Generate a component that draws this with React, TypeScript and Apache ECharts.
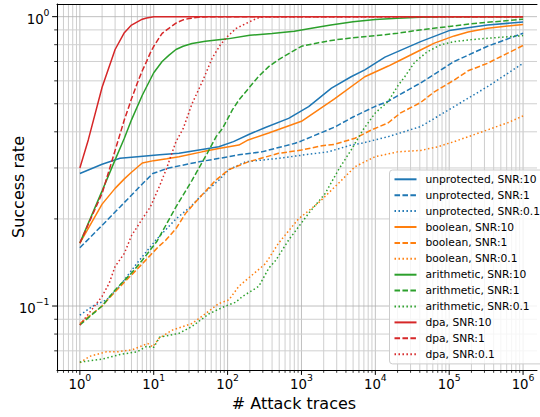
import React, { useEffect, useRef } from "react";
import * as echarts from "echarts";

// ---- data: [number of attack traces, success rate] ----
const unprotected10 = [[1,0.287],[2,0.309],[3.5,0.324],[6,0.328],[12,0.333],[22,0.337],[41,0.346],[76,0.355],[120,0.37],[200,0.393],[325,0.414],[670,0.445],[1250,0.489],[2550,0.566],[4700,0.62],[7200,0.655],[13500,0.725],[20000,0.757],[41000,0.82],[100000,0.895],[200000,0.92],[330000,0.936],[1000000,0.958]];
const unprotected1 = [[1,0.159],[2,0.19],[3.5,0.22],[6.4,0.258],[9.7,0.287],[16,0.3],[41,0.315],[104,0.328],[142,0.333],[290,0.341],[820,0.365],[1000,0.372],[2800,0.415],[5000,0.45],[10000,0.49],[15000,0.51],[22000,0.54],[41000,0.59],[117000,0.7],[330000,0.79],[1000000,0.876]];
const unprotected01 = [[1,0.093],[1.5,0.1],[2.3,0.105],[3.45,0.117],[4.7,0.13],[6.4,0.144],[10.7,0.169],[20,0.2],[30,0.218],[41,0.236],[50,0.248],[76,0.272],[104,0.296],[175,0.315],[490,0.324],[1100,0.333],[2300,0.341],[4700,0.36],[6500,0.365],[15000,0.385],[41000,0.417],[117000,0.489],[330000,0.573],[1000000,0.69]];
const boolean10 = [[1,0.165],[2,0.225],[3,0.255],[4,0.275],[5,0.29],[7,0.312],[10,0.318],[15,0.323],[22,0.328],[45,0.341],[76,0.35],[142,0.36],[190,0.375],[360,0.396],[1000,0.435],[2800,0.52],[7200,0.62],[15000,0.675],[20000,0.7],[41000,0.767],[63000,0.81],[117000,0.858],[180000,0.885],[330000,0.912],[1000000,0.94]];
const boolean1 = [[1,0.087],[2,0.1],[3,0.112],[5,0.128],[7,0.14],[11.5,0.16],[14.6,0.169],[20,0.185],[27,0.209],[41,0.236],[69,0.272],[104,0.296],[190,0.315],[490,0.337],[1000,0.346],[1900,0.358],[2800,0.362],[5300,0.38],[8900,0.406],[15000,0.43],[22000,0.465],[41000,0.505],[63000,0.55],[117000,0.604],[180000,0.65],[330000,0.69],[1000000,0.795]];
const boolean01 = [[1,0.0637],[1.36,0.067],[2.3,0.0695],[3.3,0.0695],[5.2,0.0707],[8.3,0.0742],[9.7,0.0723],[11.9,0.0775],[18,0.0826],[33,0.087],[50,0.094],[76,0.102],[104,0.105],[142,0.117],[215,0.128],[325,0.14],[490,0.165],[910,0.2],[1690,0.227],[3150,0.265],[5300,0.303],[9900,0.328],[20000,0.341],[41000,0.345],[70000,0.355],[117000,0.37],[330000,0.406],[620000,0.43],[1000000,0.454]];
const arithmetic10 = [[1,0.165],[2,0.25],[3,0.32],[4,0.38],[5,0.44],[7,0.535],[10,0.64],[13,0.7],[16,0.735],[20,0.77],[25,0.79],[33,0.808],[50,0.822],[100,0.838],[200,0.862],[400,0.875],[800,0.89],[1500,0.915],[2500,0.935],[5000,0.96],[10000,0.978],[20000,0.988],[40000,0.996],[100000,1.0],[1000000,1.0]];
const arithmetic1 = [[1,0.086],[2,0.1],[3,0.1136],[5,0.13],[7,0.144],[11,0.167],[20,0.22],[33,0.272],[53,0.337],[70,0.385],[85,0.41],[116,0.476],[142,0.515],[260,0.62],[360,0.672],[490,0.71],[700,0.75],[1000,0.79],[1700,0.813],[3000,0.833],[5000,0.845],[10000,0.86],[20000,0.876],[40000,0.9],[100000,0.925],[200000,0.945],[500000,0.965],[1000000,0.98]];
const arithmetic01 = [[1,0.064],[2,0.0655],[3.5,0.068],[6,0.0695],[8,0.0725],[10,0.072],[12,0.078],[22,0.0805],[33,0.085],[56,0.094],[94,0.1],[128,0.103],[160,0.108],[265,0.117],[360,0.135],[450,0.144],[670,0.169],[1250,0.209],[2100,0.245],[3150,0.295],[4700,0.346],[6800,0.406],[10000,0.465],[15000,0.51],[20000,0.575],[25000,0.62],[34000,0.695],[50000,0.755],[77000,0.8],[117000,0.82],[200000,0.833],[330000,0.842],[1000000,0.86]];
const dpa10 = [[1,0.3],[1.3,0.375],[2,0.57],[3,0.77],[4,0.88],[5,0.935],[6,0.96],[7,0.98],[8,0.99],[10,1.0],[1000000,1.0]];
const dpa1 = [[1,0.165],[2,0.245],[3,0.345],[4,0.44],[5,0.52],[6,0.59],[7,0.65],[8,0.7],[9,0.75],[10,0.79],[13,0.876],[15,0.9],[20,0.95],[25,0.975],[30,0.985],[40,0.995],[60,1.0],[1000000,1.0]];
const dpa01 = [[1,0.086],[2,0.108],[2.5,0.12],[3,0.137],[4,0.152],[5,0.175],[7,0.2],[9,0.22],[12,0.26],[15,0.3],[20,0.37],[25,0.41],[33,0.5],[46,0.6],[62,0.72],[80,0.8],[100,0.855],[130,0.91],[160,0.935],[215,0.97],[260,0.99],[320,1.0],[1000000,1.0]];

const seriesNames = [
  "unprotected, SNR:10", "unprotected, SNR:1", "unprotected, SNR:0.1",
  "boolean, SNR:10", "boolean, SNR:1", "boolean, SNR:0.1",
  "arithmetic, SNR:10", "arithmetic, SNR:1", "arithmetic, SNR:0.1",
  "dpa, SNR:10", "dpa, SNR:1", "dpa, SNR:0.1",
];
const seriesData = [
  unprotected10, unprotected1, unprotected01,
  boolean10, boolean1, boolean01,
  arithmetic10, arithmetic1, arithmetic01,
  dpa10, dpa1, dpa01,
];

// ---- axis ticks ----
const xMajorTicks = [1, 10, 100, 1000, 10000, 100000, 1000000];
const xMinorDecades = [0.1, 1, 10, 100, 1000, 10000, 100000, 1000000];
const minorMultipliers = [2, 3, 4, 5, 6, 7, 8, 9];
const yMajorTicks = [0.1, 1];
const yMinorTicks = [0.07, 0.08, 0.09, 0.2, 0.3, 0.4, 0.5, 0.6, 0.7, 0.8, 0.9];

const X_MIN = 0.4903;
const X_MAX = 1.544e6;
const Y_MIN = 0.0601;
const Y_MAX = 1.106;

const xMinorTicks = xMinorDecades
  .flatMap((d) => minorMultipliers.map((m) => +(d * m).toPrecision(6)))
  .filter((v) => v > X_MIN && v < X_MAX);

const COLORS = ["#1f77b4", "#ff7f0e", "#2ca02c", "#d62728"];
const DASHES: any[] = ["solid", [5.55, 2.4], [1.5, 2.475]];
const FONT = "DejaVu Sans";

function powLabel(v: number) {
  const l = Math.log10(v);
  const e = Math.round(l);
  if (Math.abs(l - e) > 1e-6) return "";
  return `{b|10}{s|${e < 0 ? "\u2212" : ""}${Math.abs(e)}}`;
}

const labelRich = {
  b: { fontSize: 13.3, fontFamily: FONT, color: "#000", lineHeight: 18, verticalAlign: "bottom" },
  s: { fontSize: 9.3, fontFamily: FONT, color: "#000", lineHeight: 10, verticalAlign: "top" },
};

function vGrid(major: boolean) {
  return (params: any, api: any) => {
    const cs = params.coordSys;
    const x = api.coord([api.value(0), 1])[0];
    const bottom = cs.y + cs.height;
    return {
      type: "group",
      children: [
        { type: "line", shape: { x1: x, y1: cs.y, x2: x, y2: bottom }, style: { stroke: major ? "#b0b0b0" : "#c2c2c2", lineWidth: 0.8 } },
        { type: "line", shape: { x1: x, y1: bottom, x2: x, y2: bottom + (major ? 4.9 : 2.8) }, style: { stroke: "#000", lineWidth: major ? 1 : 0.8 } },
      ],
    };
  };
}
function hGrid(major: boolean) {
  return (params: any, api: any) => {
    const cs = params.coordSys;
    const y = api.coord([1, api.value(1)])[1];
    return {
      type: "group",
      children: [
        { type: "line", shape: { x1: cs.x, y1: y, x2: cs.x + cs.width, y2: y }, style: { stroke: major ? "#b0b0b0" : "#d0d0d0", lineWidth: major ? 0.8 : 1 } },
        { type: "line", shape: { x1: cs.x, y1: y, x2: cs.x - (major ? 4.9 : 2.8), y2: y }, style: { stroke: "#000", lineWidth: major ? 1 : 0.8 } },
      ],
    };
  };
}

export default function App() {
  const ref = useRef<HTMLDivElement>(null);
  useEffect(() => {
    if (!ref.current) return;
    const chart = echarts.init(ref.current, undefined, { renderer: "svg" });
    const lineSeries = seriesData.map((d, i) => ({
      name: seriesNames[i],
      type: "line",
      data: d,
      showSymbol: false,
      symbol: "none",
      z: 3,
      color: COLORS[Math.floor(i / 3)],
      lineStyle: { color: COLORS[Math.floor(i / 3)], width: 1.5, type: DASHES[i % 3], cap: "butt" },
      emphasis: { disabled: true },
      silent: true,
    }));
    const gridSeries = [
      { type: "custom", renderItem: vGrid(false), data: xMinorTicks.map((v) => [v, 1]), z: 1, silent: true },
      { type: "custom", renderItem: vGrid(true), data: xMajorTicks.map((v) => [v, 1]), z: 1, silent: true },
      { type: "custom", renderItem: hGrid(false), data: yMinorTicks.map((v) => [1, v]), z: 1, silent: true },
      { type: "custom", renderItem: hGrid(true), data: yMajorTicks.map((v) => [1, v]), z: 1, silent: true },
    ];
    const spine = { show: true, lineStyle: { color: "#000", width: 1 } };
    chart.setOption({
      animation: false,
      textStyle: { fontFamily: FONT },
      grid: { left: 57, top: 4, right: 0, bottom: 47 },
      xAxis: [
        {
          type: "log", logBase: 10, min: X_MIN, max: X_MAX, position: "bottom",
          axisLine: spine, axisTick: { show: false }, splitLine: { show: false },
          axisLabel: { margin: 3, formatter: powLabel, rich: labelRich },
          z: 5,
        },
        {
          type: "log", logBase: 10, min: X_MIN, max: X_MAX, position: "top",
          axisLine: spine, axisTick: { show: false }, splitLine: { show: false },
          axisLabel: { show: false },
          z: 5,
        },
      ],
      yAxis: {
        type: "log", logBase: 10, min: Y_MIN, max: Y_MAX,
        axisLine: spine, axisTick: { show: false }, splitLine: { show: false },
        axisLabel: { margin: 7.5, formatter: powLabel, rich: labelRich },
        z: 5,
      },
      legend: {
        data: seriesNames,
        orient: "vertical",
        left: 389.5,
        top: 170,
        itemWidth: 22,
        itemHeight: 12,
        itemGap: 3.9,
        padding: [3.3, 4, 3.7, 4],
        backgroundColor: "rgba(255,255,255,0.8)",
        borderColor: "#cccccc",
        borderWidth: 1,
        borderRadius: 3,
        selectedMode: false,
        itemStyle: { opacity: 0 },
        textStyle: { fontSize: 10.7, fontFamily: FONT, color: "#000", lineHeight: 12, padding: [0, 0, 0, 4] },
        z: 10,
      },
      graphic: [
        { type: "text", x: 294, y: 403, style: { text: "# Attack traces", fontSize: 16, fontFamily: FONT, fill: "#000", align: "center", verticalAlign: "middle" } },
        { type: "text", x: 18.5, y: 187, rotation: Math.PI / 2, style: { text: "Success rate", fontSize: 16, fontFamily: FONT, fill: "#000", align: "center", verticalAlign: "middle" } },
      ],
      series: [...gridSeries, ...lineSeries],
    });
    return () => chart.dispose();
  }, []);
  return <div ref={ref} style={{ position: "absolute", left: 0, top: 0, width: 540, height: 417 }} />;
}
